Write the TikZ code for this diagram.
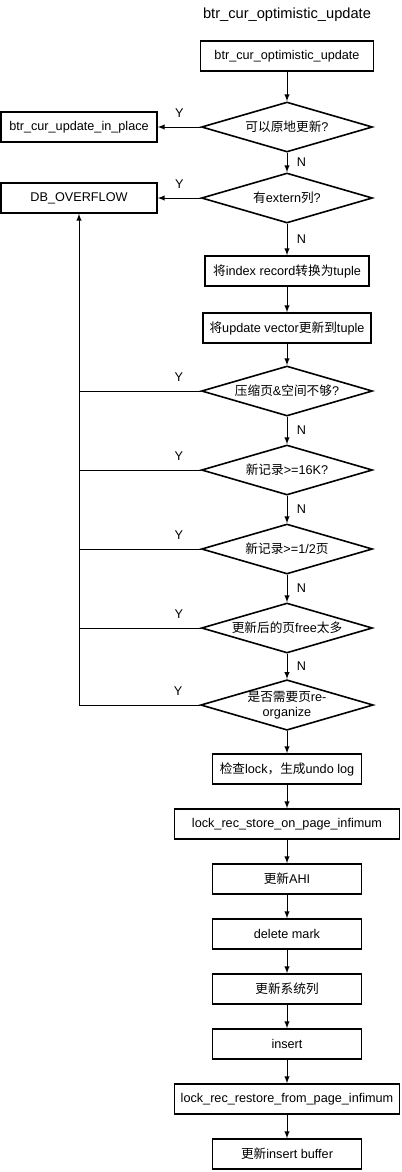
\documentclass[tikz,border=0pt]{standalone}
\usepackage{fontspec}
\setmainfont{Liberation Sans}
\newfontfamily\cj{Noto Sans CJK SC}
\usetikzlibrary{shapes.geometric}

\tikzset{
  stepbox/.style={draw, rectangle, line width=1.2pt, minimum height=22.5pt, minimum width=#1, inner sep=2pt},
  stepbox/.default=111.75pt,
  check/.style={draw, diamond, line width=1.2pt, shape aspect=3.42, minimum width=128.25pt, minimum height=37.5pt, inner sep=0pt, align=center},
  flow/.style={arrows=-latex, line width=0.75pt},
  back/.style={line width=0.75pt},
  ylab/.style={above, inner sep=7pt},
  nlab/.style={right, inner sep=7pt}
}

\begin{document}
\fontsize{9.5}{11}\selectfont
\begin{tikzpicture}[x=0.75pt, y=-0.75pt, node distance=41.25pt, auto]
\useasboundingbox (0,0) rectangle (402,1172);
\node (title) at (287,15) {\fontsize{11}{13}\selectfont btr\_cur\_optimistic\_update};
\node (start)[stepbox=129.75pt] at (287,56) {btr\_cur\_optimistic\_update};
\node (d1)[check] at (287,127) {{\cj 可以原地更新}?};
\node (inplace)[stepbox=117pt] at (79,127) {btr\_cur\_update\_in\_place};
\node (d2)[check] at (287,198) {{\cj 有}extern{\cj 列}?};
\node (db)[stepbox=117pt] at (79,198) {DB\_OVERFLOW};
\node (totuple)[stepbox=123pt] at (287,271) {{\cj 将}index record{\cj 转换为}tuple};
\node (upvec)[stepbox=126pt] at (287,328) {{\cj 将}update vector{\cj 更新到}tuple};
\node (d3)[check] at (287,391) {{\cj 压缩页}\&{\cj 空间不够}?};
\node (d4)[check] at (287,470) {{\cj 新记录}>=16K?};
\node (d5)[check] at (287,549) {{\cj 新记录}>=1/2{\cj 页}};
\node (d6)[check] at (287,628) {{\cj 更新后的页}free{\cj 太多}};
\node (d7)[check] at (287,705) {{\cj 是否需要页}re-\\organize};
\node (chk)[stepbox] at (287,769) {{\cj 检查}lock{\cj ，生成}undo log};
\node (store)[stepbox=168.75pt] [below of = chk] {lock\_rec\_store\_on\_page\_infimum};
\node (ahi)[stepbox] [below of = store] {{\cj 更新}AHI};
\node (delmark)[stepbox] [below of = ahi] {delete mark};
\node (syscol)[stepbox] [below of = delmark] {{\cj 更新系统列}};
\node (ins)[stepbox] [below of = syscol] {insert};
\node (restore)[stepbox=168.75pt] [below of = ins] {lock\_rec\_restore\_from\_page\_infimum};
\node (ibuf)[stepbox] [below of = restore] {{\cj 更新}insert buffer};
% main column
\draw[flow] (start) -- (d1);
\draw[flow] (d1) -- node[nlab]{N} (d2);
\draw[flow] (d2) -- node[nlab]{N} (totuple);
\draw[flow] (totuple) -- (upvec);
\draw[flow] (upvec) -- (d3);
\draw[flow] (d3) -- node[nlab]{N} (d4);
\draw[flow] (d4) -- node[nlab]{N} (d5);
\draw[flow] (d5) -- node[nlab]{N} (d6);
\draw[flow] (d6) -- node[nlab]{N} (d7);
\draw[flow] (d7) -- (chk);
\draw[flow] (chk) -- (store);
\draw[flow] (store) -- (ahi);
\draw[flow] (ahi) -- (delmark);
\draw[flow] (delmark) -- (syscol);
\draw[flow] (syscol) -- (ins);
\draw[flow] (ins) -- (restore);
\draw[flow] (restore) -- (ibuf);
% Y branches
\draw[flow] (d1) -- node[ylab]{Y} (inplace);
\draw[flow] (d2) -- node[ylab]{Y} (db);
\draw[back] (d3.west) -- node[ylab, pos=0.18]{Y} (d3.west -| db.south);
\draw[back] (d4.west) -- node[ylab, pos=0.18]{Y} (d4.west -| db.south);
\draw[back] (d5.west) -- node[ylab, pos=0.18]{Y} (d5.west -| db.south);
\draw[back] (d6.west) -- node[ylab, pos=0.18]{Y} (d6.west -| db.south);
\draw[flow] (d7.west) -- node[ylab, pos=0.18]{Y} (d7.west -| db.south) -- (db.south);
\end{tikzpicture}
\end{document}
